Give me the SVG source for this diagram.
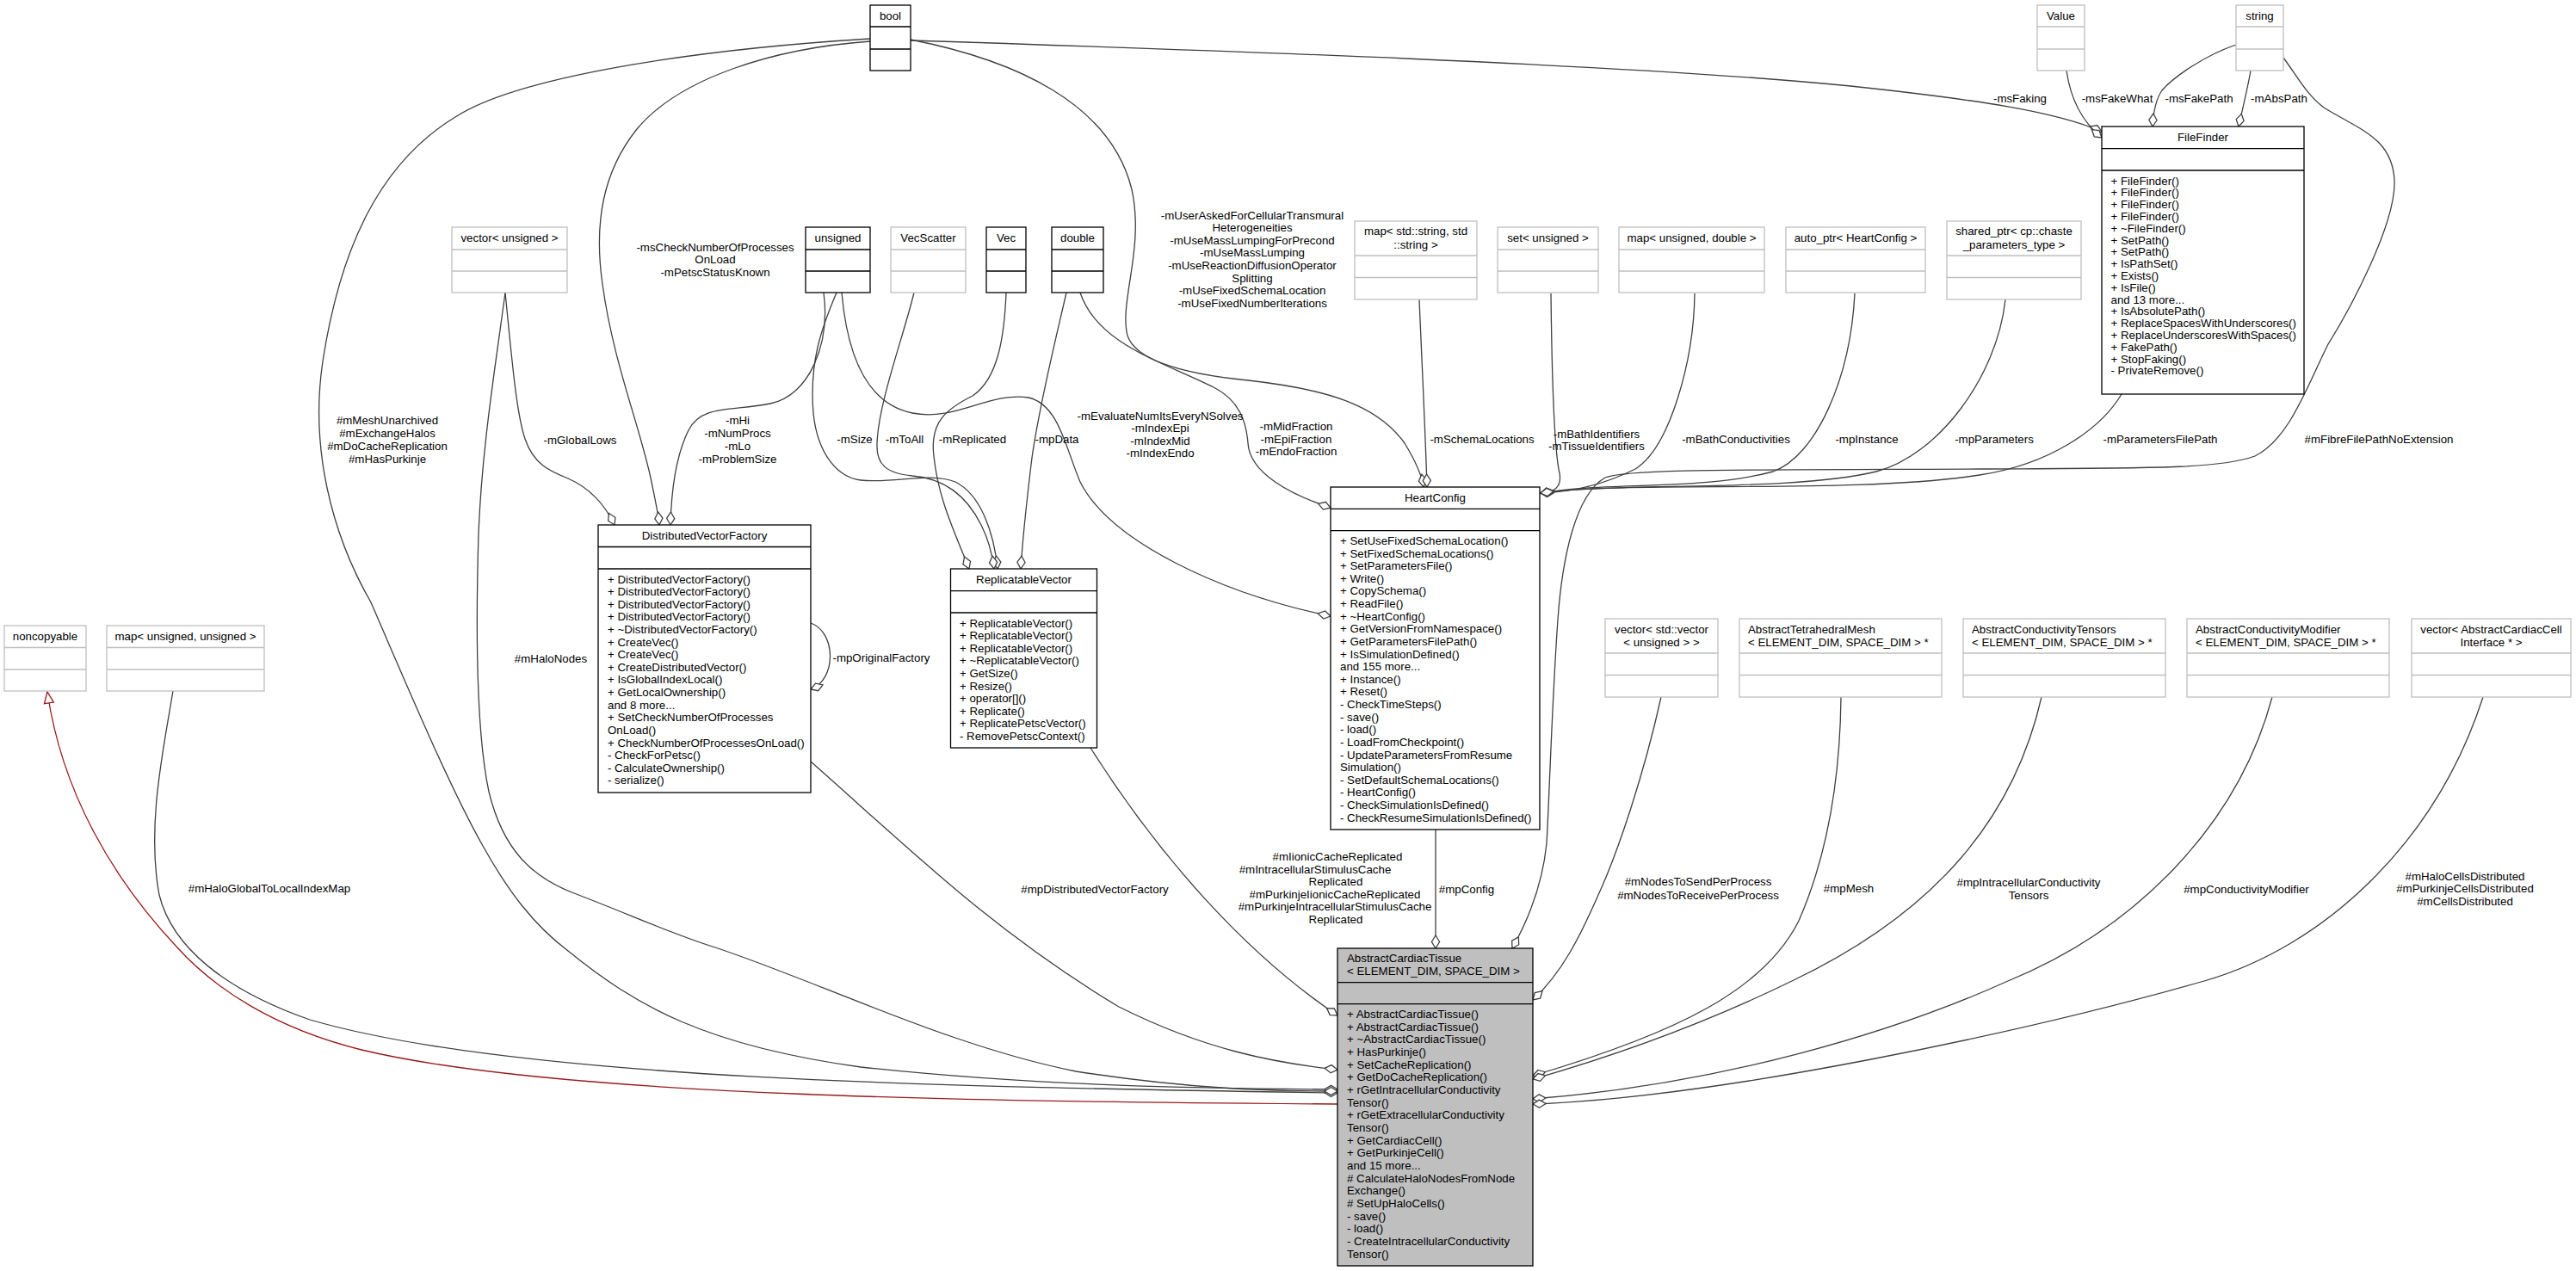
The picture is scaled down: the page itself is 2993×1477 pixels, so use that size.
<svg xmlns="http://www.w3.org/2000/svg" width="2993" height="1477" viewBox="0 0 2993 1477">
<defs>
<style>
.t{font-family:"Liberation Sans",Arial,sans-serif;font-size:13.3px;fill:#000}
.m{text-anchor:middle}
.bk{fill:#fff;stroke:#000;stroke-width:1.3}
.gr{fill:#fff;stroke:#bfbfbf;stroke-width:1.3}
.ac{fill:#bfbfbf;stroke:#000;stroke-width:1.3}
.dl{stroke:#000;stroke-width:1.3}
.gl{stroke:#bfbfbf;stroke-width:1.3}
.e{fill:none;stroke:#404040;stroke-width:1.3;marker-end:url(#dia)}
.r{fill:none;stroke:#9a1a1a;stroke-width:1.3;marker-end:url(#inh)}
</style>
<marker id="dia" markerUnits="userSpaceOnUse" markerWidth="18" markerHeight="12" viewBox="-1 -6 18 12" refX="15" refY="0" orient="auto"><path d="M0,0 L7.5,-4.6 L15,0 L7.5,4.6 Z" fill="#fff" stroke="#404040" stroke-width="1.3"/></marker>
<marker id="inh" markerUnits="userSpaceOnUse" markerWidth="16" markerHeight="14" viewBox="-1 -7 16 14" refX="13" refY="0" orient="auto"><path d="M0,-5.5 L13,0 L0,5.5 Z" fill="#fff" stroke="#9a1a1a" stroke-width="1.3"/></marker>
</defs>
<rect width="2993" height="1477" fill="#fff"/>

<g id="edges">
<path class="r" d="M1554,1283 C1150,1280 650,1275 420,1220 C320,1195 250,1150 205,1100 C130,1020 72,920 55,804"/>
<path class="e" d="M201,803 C190,870 170,960 185,1040 C200,1100 260,1150 360,1185 C600,1255 1100,1263 1554,1270"/>
<path class="e" d="M1011,45 C800,58 600,90 529,136 C440,190 395,290 375,420 C360,520 385,620 431,700 C470,790 520,910 561,983 C590,1035 620,1075 660,1105 C740,1170 820,1215 1000,1240 C1200,1262 1400,1265 1554,1266"/>
<path class="e" d="M1011,48 C900,56 790,90 740,150 C700,200 690,260 700,330 C712,420 745,500 757,560 C762,585 765,598 766,610"/>
<path class="e" d="M587,340 C595,420 600,480 610,510 C620,540 640,548 660,556 C685,567 702,585 714,610"/>
<path class="e" d="M587,340 C575,430 560,520 556,620 C553,720 553,850 568,920 C585,990 620,1020 667,1038 C730,1062 780,1085 828,1100 C950,1140 1100,1215 1250,1245 C1380,1265 1470,1268 1554,1268"/>
<path class="e" d="M957,340 C965,400 940,460 895,469 C850,478 815,470 800,500 C786,528 780,570 779,610"/>
<path class="e" d="M972,340 C955,380 940,420 945,480 C950,530 975,555 1000,558 C1040,562 1080,548 1110,560 C1140,575 1155,620 1159,661"/>
<path class="e" d="M1062,340 C1050,390 1020,470 1019,516 C1018,540 1030,550 1060,553 C1100,556 1125,580 1140,610 C1150,630 1153,645 1155,661"/>
<path class="e" d="M1169,340 C1167,390 1160,440 1130,460 C1100,475 1080,490 1085,530 C1090,580 1110,620 1126,661"/>
<path class="e" d="M1239,340 C1230,380 1205,480 1198,540 C1192,590 1188,630 1186,661"/>
<path class="e" d="M1255,340 C1275,400 1350,420 1410,450 C1440,465 1448,490 1450,515 C1452,550 1500,575 1546,590"/>
<path class="e" d="M1058,46 C1180,70 1290,120 1315,220 C1330,290 1300,350 1310,390 C1320,420 1380,435 1450,442 C1540,452 1600,470 1632,515 C1646,538 1652,552 1654,566"/>
<path class="e" d="M1649,348 C1652,420 1656,500 1658,566"/>
<path class="e" d="M978,340 C985,420 1010,470 1060,480 C1110,490 1150,455 1195,462 C1230,470 1238,520 1255,560 C1290,630 1420,690 1546,716"/>
<path class="e" d="M1802,341 C1803,430 1805,520 1812,550 C1815,566 1805,573 1790,573"/>
<path class="e" d="M1969,341 C1968,420 1940,520 1900,545 C1860,565 1820,572 1790,573"/>
<path class="e" d="M2155,341 C2150,440 2110,530 2060,548 C1980,570 1860,560 1790,573"/>
<path class="e" d="M2330,348 C2320,440 2250,530 2180,548 C2080,572 1880,560 1790,573"/>
<path class="e" d="M2465,458 C2440,500 2380,540 2300,552 C2150,575 1900,558 1790,573"/>
<path class="e" d="M2653,67 C2670,90 2680,110 2700,125 C2740,150 2780,160 2782,210 C2784,260 2730,360 2705,400 C2680,450 2660,510 2620,530 C2580,545 2500,544 2300,545 C2000,546 1890,545 1865,555 C1830,575 1815,650 1810,720 C1803,820 1800,930 1797,980 C1792,1030 1775,1070 1757,1102"/>
<path class="e" d="M1058,47 C1400,58 1900,75 2150,100 C2300,116 2390,130 2442,153"/>
<path class="e" d="M2401,82 C2405,110 2415,138 2442,160"/>
<path class="e" d="M2598,52 C2560,65 2525,90 2512,105 C2505,115 2502,130 2501,147"/>
<path class="e" d="M2615,82 C2612,100 2606,125 2601,147"/>
<path class="e" d="M1668,964 L1668,1102"/>
<path class="e" d="M1267,869 C1350,1000 1450,1110 1554,1180"/>
<path class="e" d="M942,885 C1050,980 1150,1080 1300,1170 C1400,1220 1480,1235 1554,1243"/>
<path class="e" d="M942,724 C972,735 972,790 942,801"/>
<path class="e" d="M1930,810 C1910,900 1880,990 1857,1040 C1835,1090 1815,1130 1781,1162"/>
<path class="e" d="M2139,810 C2138,900 2125,990 2090,1070 C2050,1150 1950,1200 1781,1250"/>
<path class="e" d="M2372,810 C2340,950 2250,1060 2082,1140 C2000,1180 1900,1220 1781,1254"/>
<path class="e" d="M2640,810 C2600,960 2480,1080 2333,1140 C2200,1200 2000,1260 1781,1277"/>
<path class="e" d="M2885,810 C2830,980 2700,1100 2561,1140 C2350,1200 2000,1275 1781,1283"/>
</g>

<g id="edge-labels" class="t m">
<text x="450" y="493">#mMeshUnarchived</text>
<text x="450" y="508">#mExchangeHalos</text>
<text x="450" y="523">#mDoCacheReplication</text>
<text x="450" y="538">#mHasPurkinje</text>
<text x="831" y="291.5">-msCheckNumberOfProcesses</text>
<text x="831" y="306.3">OnLoad</text>
<text x="831" y="321">-mPetscStatusKnown</text>
<text x="674" y="515.5">-mGlobalLows</text>
<text x="857" y="493">-mHi</text>
<text x="857" y="508">-mNumProcs</text>
<text x="857" y="523">-mLo</text>
<text x="857" y="538">-mProblemSize</text>
<text x="993" y="514.5">-mSize</text>
<text x="1051" y="514.5">-mToAll</text>
<text x="1130" y="514.5">-mReplicated</text>
<text x="1228" y="514.5">-mpData</text>
<text x="1455" y="254.5">-mUserAskedForCellularTransmural</text>
<text x="1455" y="269.1">Heterogeneities</text>
<text x="1455" y="283.7">-mUseMassLumpingForPrecond</text>
<text x="1455" y="298.3">-mUseMassLumping</text>
<text x="1455" y="312.9">-mUseReactionDiffusionOperator</text>
<text x="1455" y="327.5">Splitting</text>
<text x="1455" y="342.1">-mUseFixedSchemaLocation</text>
<text x="1455" y="356.7">-mUseFixedNumberIterations</text>
<text x="1348" y="487.5">-mEvaluateNumItsEveryNSolves</text>
<text x="1348" y="502.1">-mIndexEpi</text>
<text x="1348" y="516.7">-mIndexMid</text>
<text x="1348" y="531.3">-mIndexEndo</text>
<text x="1506" y="500">-mMidFraction</text>
<text x="1506" y="514.6">-mEpiFraction</text>
<text x="1506" y="529.2">-mEndoFraction</text>
<text x="1722" y="515">-mSchemaLocations</text>
<text x="1855" y="508.5">-mBathIdentifiers</text>
<text x="1855" y="523">-mTissueIdentifiers</text>
<text x="2017" y="515">-mBathConductivities</text>
<text x="2169" y="515">-mpInstance</text>
<text x="2317" y="515">-mpParameters</text>
<text x="2510" y="515">-mParametersFilePath</text>
<text x="2764" y="515">#mFibreFilePathNoExtension</text>
<text x="2347" y="118.5">-msFaking</text>
<text x="2460" y="118.5">-msFakeWhat</text>
<text x="2555" y="118.5">-msFakePath</text>
<text x="2648" y="118.5">-mAbsPath</text>
<text x="1024" y="769">-mpOriginalFactory</text>
<text x="640" y="769.5">#mHaloNodes</text>
<text x="313" y="1036.5">#mHaloGlobalToLocalIndexMap</text>
<text x="1272" y="1037.5">#mpDistributedVectorFactory</text>
<text x="1554" y="1000">#mIionicCacheReplicated</text>
<text x="1528" y="1014.5">#mIntracellularStimulusCache</text>
<text x="1552" y="1029">Replicated</text>
<text x="1551" y="1043.5">#mPurkinjeIionicCacheReplicated</text>
<text x="1551" y="1058">#mPurkinjeIntracellularStimulusCache</text>
<text x="1552" y="1072.5">Replicated</text>
<text x="1704" y="1037.5">#mpConfig</text>
<text x="1973" y="1028.5">#mNodesToSendPerProcess</text>
<text x="1973" y="1044.5">#mNodesToReceivePerProcess</text>
<text x="2148" y="1037">#mpMesh</text>
<text x="2357" y="1029.5">#mpIntracellularConductivity</text>
<text x="2357" y="1044.5">Tensors</text>
<text x="2610" y="1037.5">#mpConductivityModifier</text>
<text x="2864" y="1022.5">#mHaloCellsDistributed</text>
<text x="2864" y="1037">#mPurkinjeCellsDistributed</text>
<text x="2864" y="1051.5">#mCellsDistributed</text>
</g>

<g id="bool"><rect class="bk" x="1011" y="6" width="47" height="76"/><line class="dl" x1="1011" y1="31" x2="1058" y2="31"/><line class="dl" x1="1011" y1="57" x2="1058" y2="57"/><text class="t m" x="1034.5" y="23">bool</text></g>
<g id="Value"><rect class="gr" x="2367" y="6" width="55" height="76"/><line class="gl" x1="2367" y1="31" x2="2422" y2="31"/><line class="gl" x1="2367" y1="57" x2="2422" y2="57"/><text class="t m" x="2394.5" y="23">Value</text></g>
<g id="string"><rect class="gr" x="2598" y="6" width="55" height="76"/><line class="gl" x1="2598" y1="31" x2="2653" y2="31"/><line class="gl" x1="2598" y1="57" x2="2653" y2="57"/><text class="t m" x="2625.5" y="23">string</text></g>
<g id="vector_unsigned"><rect class="gr" x="525" y="264" width="134" height="76"/><line class="gl" x1="525" y1="290" x2="659" y2="290"/><line class="gl" x1="525" y1="315" x2="659" y2="315"/><text class="t m" x="592" y="281">vector&lt; unsigned &gt;</text></g>
<g id="unsigned"><rect class="bk" x="936" y="264" width="75" height="76"/><line class="dl" x1="936" y1="290" x2="1011" y2="290"/><line class="dl" x1="936" y1="315" x2="1011" y2="315"/><text class="t m" x="973.5" y="281">unsigned</text></g>
<g id="VecScatter"><rect class="gr" x="1035" y="264" width="87" height="76"/><line class="gl" x1="1035" y1="290" x2="1122" y2="290"/><line class="gl" x1="1035" y1="315" x2="1122" y2="315"/><text class="t m" x="1078.5" y="281">VecScatter</text></g>
<g id="Vec"><rect class="bk" x="1146" y="264" width="46" height="76"/><line class="dl" x1="1146" y1="290" x2="1192" y2="290"/><line class="dl" x1="1146" y1="315" x2="1192" y2="315"/><text class="t m" x="1169" y="281">Vec</text></g>
<g id="double"><rect class="bk" x="1222" y="264" width="60" height="76"/><line class="dl" x1="1222" y1="290" x2="1282" y2="290"/><line class="dl" x1="1222" y1="315" x2="1282" y2="315"/><text class="t m" x="1252" y="281">double</text></g>
<g id="map_string"><rect class="gr" x="1574" y="257" width="142" height="91"/><line class="gl" x1="1574" y1="297" x2="1716" y2="297"/><line class="gl" x1="1574" y1="322.5" x2="1716" y2="322.5"/><text class="t m" x="1645" y="273">map&lt; std::string, std</text><text class="t m" x="1645" y="288.5">::string &gt;</text></g>
<g id="set_unsigned"><rect class="gr" x="1740" y="264" width="117" height="76"/><line class="gl" x1="1740" y1="290" x2="1857" y2="290"/><line class="gl" x1="1740" y1="315" x2="1857" y2="315"/><text class="t m" x="1798.5" y="281">set&lt; unsigned &gt;</text></g>
<g id="map_unsigned_double"><rect class="gr" x="1881" y="264" width="169" height="76"/><line class="gl" x1="1881" y1="290" x2="2050" y2="290"/><line class="gl" x1="1881" y1="315" x2="2050" y2="315"/><text class="t m" x="1965.5" y="281">map&lt; unsigned, double &gt;</text></g>
<g id="auto_ptr"><rect class="gr" x="2075" y="264" width="162" height="76"/><line class="gl" x1="2075" y1="290" x2="2237" y2="290"/><line class="gl" x1="2075" y1="315" x2="2237" y2="315"/><text class="t m" x="2156" y="281">auto_ptr&lt; HeartConfig &gt;</text></g>
<g id="shared_ptr"><rect class="gr" x="2262" y="257" width="156" height="91"/><line class="gl" x1="2262" y1="297" x2="2418" y2="297"/><line class="gl" x1="2262" y1="322.5" x2="2418" y2="322.5"/><text class="t m" x="2340" y="273">shared_ptr&lt; cp::chaste</text><text class="t m" x="2340" y="288.5">_parameters_type &gt;</text></g>

<g id="FileFinder"><rect class="bk" x="2442" y="147" width="235" height="311"/><line class="dl" x1="2442" y1="172.7" x2="2677" y2="172.7"/><line class="dl" x1="2442" y1="198" x2="2677" y2="198"/><text class="t m" x="2559.5" y="164">FileFinder</text>
<text class="t" x="2452.5" y="214.5"><tspan x="2452.5">+ FileFinder()</tspan><tspan x="2452.5" dy="13.8">+ FileFinder()</tspan><tspan x="2452.5" dy="13.8">+ FileFinder()</tspan><tspan x="2452.5" dy="13.8">+ FileFinder()</tspan><tspan x="2452.5" dy="13.8">+ ~FileFinder()</tspan><tspan x="2452.5" dy="13.8">+ SetPath()</tspan><tspan x="2452.5" dy="13.8">+ SetPath()</tspan><tspan x="2452.5" dy="13.8">+ IsPathSet()</tspan><tspan x="2452.5" dy="13.8">+ Exists()</tspan><tspan x="2452.5" dy="13.8">+ IsFile()</tspan><tspan x="2452.5" dy="13.8">and 13 more...</tspan><tspan x="2452.5" dy="13.8">+ IsAbsolutePath()</tspan><tspan x="2452.5" dy="13.8">+ ReplaceSpacesWithUnderscores()</tspan><tspan x="2452.5" dy="13.8">+ ReplaceUnderscoresWithSpaces()</tspan><tspan x="2452.5" dy="13.8">+ FakePath()</tspan><tspan x="2452.5" dy="13.8">+ StopFaking()</tspan><tspan x="2452.5" dy="13.8">- PrivateRemove()</tspan></text></g>

<g id="noncopyable"><rect class="gr" x="5" y="727" width="95" height="76"/><line class="gl" x1="5" y1="752.5" x2="100" y2="752.5"/><line class="gl" x1="5" y1="778" x2="100" y2="778"/><text class="t m" x="52.5" y="744">noncopyable</text></g>
<g id="map_unsigned_unsigned"><rect class="gr" x="124" y="727" width="183" height="76"/><line class="gl" x1="124" y1="752.5" x2="307" y2="752.5"/><line class="gl" x1="124" y1="778" x2="307" y2="778"/><text class="t m" x="215.5" y="744">map&lt; unsigned, unsigned &gt;</text></g>

<g id="DistributedVectorFactory"><rect class="bk" x="695" y="610" width="247" height="311"/><line class="dl" x1="695" y1="635.5" x2="942" y2="635.5"/><line class="dl" x1="695" y1="661" x2="942" y2="661"/><text class="t m" x="818.5" y="626.5">DistributedVectorFactory</text>
<text class="t" x="706" y="677.5"><tspan x="706">+ DistributedVectorFactory()</tspan><tspan x="706" dy="14.62">+ DistributedVectorFactory()</tspan><tspan x="706" dy="14.62">+ DistributedVectorFactory()</tspan><tspan x="706" dy="14.62">+ DistributedVectorFactory()</tspan><tspan x="706" dy="14.62">+ ~DistributedVectorFactory()</tspan><tspan x="706" dy="14.62">+ CreateVec()</tspan><tspan x="706" dy="14.62">+ CreateVec()</tspan><tspan x="706" dy="14.62">+ CreateDistributedVector()</tspan><tspan x="706" dy="14.62">+ IsGlobalIndexLocal()</tspan><tspan x="706" dy="14.62">+ GetLocalOwnership()</tspan><tspan x="706" dy="14.62">and 8 more...</tspan><tspan x="706" dy="14.62">+ SetCheckNumberOfProcesses</tspan><tspan x="706" dy="14.62">OnLoad()</tspan><tspan x="706" dy="14.62">+ CheckNumberOfProcessesOnLoad()</tspan><tspan x="706" dy="14.62">- CheckForPetsc()</tspan><tspan x="706" dy="14.62">- CalculateOwnership()</tspan><tspan x="706" dy="14.62">- serialize()</tspan></text></g>

<g id="ReplicatableVector"><rect class="bk" x="1104.5" y="661" width="170" height="208"/><line class="dl" x1="1104.5" y1="686.7" x2="1274.5" y2="686.7"/><line class="dl" x1="1104.5" y1="712" x2="1274.5" y2="712"/><text class="t m" x="1189.5" y="678">ReplicatableVector</text>
<text class="t" x="1115" y="728.5"><tspan x="1115">+ ReplicatableVector()</tspan><tspan x="1115" dy="14.62">+ ReplicatableVector()</tspan><tspan x="1115" dy="14.62">+ ReplicatableVector()</tspan><tspan x="1115" dy="14.62">+ ~ReplicatableVector()</tspan><tspan x="1115" dy="14.62">+ GetSize()</tspan><tspan x="1115" dy="14.62">+ Resize()</tspan><tspan x="1115" dy="14.62">+ operator[]()</tspan><tspan x="1115" dy="14.62">+ Replicate()</tspan><tspan x="1115" dy="14.62">+ ReplicatePetscVector()</tspan><tspan x="1115" dy="14.62">- RemovePetscContext()</tspan></text></g>

<g id="HeartConfig"><rect class="bk" x="1546" y="566" width="243" height="398"/><line class="dl" x1="1546" y1="591.3" x2="1789" y2="591.3"/><line class="dl" x1="1546" y1="616.7" x2="1789" y2="616.7"/><text class="t m" x="1667.5" y="582.5">HeartConfig</text>
<text class="t" x="1557" y="633"><tspan x="1557">+ SetUseFixedSchemaLocation()</tspan><tspan x="1557" dy="14.62">+ SetFixedSchemaLocations()</tspan><tspan x="1557" dy="14.62">+ SetParametersFile()</tspan><tspan x="1557" dy="14.62">+ Write()</tspan><tspan x="1557" dy="14.62">+ CopySchema()</tspan><tspan x="1557" dy="14.62">+ ReadFile()</tspan><tspan x="1557" dy="14.62">+ ~HeartConfig()</tspan><tspan x="1557" dy="14.62">+ GetVersionFromNamespace()</tspan><tspan x="1557" dy="14.62">+ GetParametersFilePath()</tspan><tspan x="1557" dy="14.62">+ IsSimulationDefined()</tspan><tspan x="1557" dy="14.62">and 155 more...</tspan><tspan x="1557" dy="14.62">+ Instance()</tspan><tspan x="1557" dy="14.62">+ Reset()</tspan><tspan x="1557" dy="14.62">- CheckTimeSteps()</tspan><tspan x="1557" dy="14.62">- save()</tspan><tspan x="1557" dy="14.62">- load()</tspan><tspan x="1557" dy="14.62">- LoadFromCheckpoint()</tspan><tspan x="1557" dy="14.62">- UpdateParametersFromResume</tspan><tspan x="1557" dy="14.62">Simulation()</tspan><tspan x="1557" dy="14.62">- SetDefaultSchemaLocations()</tspan><tspan x="1557" dy="14.62">- HeartConfig()</tspan><tspan x="1557" dy="14.62">- CheckSimulationIsDefined()</tspan><tspan x="1557" dy="14.62">- CheckResumeSimulationIsDefined()</tspan></text></g>

<g id="AbstractCardiacTissue"><rect class="ac" x="1554" y="1102" width="227" height="369"/><line class="dl" x1="1554" y1="1141.7" x2="1781" y2="1141.7"/><line class="dl" x1="1554" y1="1166.7" x2="1781" y2="1166.7"/><text class="t" x="1565" y="1117.5">AbstractCardiacTissue</text><text class="t" x="1565" y="1132.5">&lt; ELEMENT_DIM, SPACE_DIM &gt;</text>
<text class="t" x="1565" y="1183"><tspan x="1565">+ AbstractCardiacTissue()</tspan><tspan x="1565" dy="14.67">+ AbstractCardiacTissue()</tspan><tspan x="1565" dy="14.67">+ ~AbstractCardiacTissue()</tspan><tspan x="1565" dy="14.67">+ HasPurkinje()</tspan><tspan x="1565" dy="14.67">+ SetCacheReplication()</tspan><tspan x="1565" dy="14.67">+ GetDoCacheReplication()</tspan><tspan x="1565" dy="14.67">+ rGetIntracellularConductivity</tspan><tspan x="1565" dy="14.67">Tensor()</tspan><tspan x="1565" dy="14.67">+ rGetExtracellularConductivity</tspan><tspan x="1565" dy="14.67">Tensor()</tspan><tspan x="1565" dy="14.67">+ GetCardiacCell()</tspan><tspan x="1565" dy="14.67">+ GetPurkinjeCell()</tspan><tspan x="1565" dy="14.67">and 15 more...</tspan><tspan x="1565" dy="14.67"># CalculateHaloNodesFromNode</tspan><tspan x="1565" dy="14.67">Exchange()</tspan><tspan x="1565" dy="14.67"># SetUpHaloCells()</tspan><tspan x="1565" dy="14.67">- save()</tspan><tspan x="1565" dy="14.67">- load()</tspan><tspan x="1565" dy="14.67">- CreateIntracellularConductivity</tspan><tspan x="1565" dy="14.67">Tensor()</tspan></text></g>

<g id="vector_vector_unsigned"><rect class="gr" x="1865" y="719" width="131" height="91"/><line class="gl" x1="1865" y1="759" x2="1996" y2="759"/><line class="gl" x1="1865" y1="784.5" x2="1996" y2="784.5"/><text class="t m" x="1930.5" y="735.5">vector&lt; std::vector</text><text class="t m" x="1930.5" y="750.5">&lt; unsigned &gt; &gt;</text></g>
<g id="AbstractTetrahedralMesh"><rect class="gr" x="2021" y="719" width="235" height="91"/><line class="gl" x1="2021" y1="759" x2="2256" y2="759"/><line class="gl" x1="2021" y1="784.5" x2="2256" y2="784.5"/><text class="t" x="2031" y="735.5">AbstractTetrahedralMesh</text><text class="t" x="2031" y="750.5">&lt; ELEMENT_DIM, SPACE_DIM &gt; *</text></g>
<g id="AbstractConductivityTensors"><rect class="gr" x="2281" y="719" width="235" height="91"/><line class="gl" x1="2281" y1="759" x2="2516" y2="759"/><line class="gl" x1="2281" y1="784.5" x2="2516" y2="784.5"/><text class="t" x="2291" y="735.5">AbstractConductivityTensors</text><text class="t" x="2291" y="750.5">&lt; ELEMENT_DIM, SPACE_DIM &gt; *</text></g>
<g id="AbstractConductivityModifier"><rect class="gr" x="2541" y="719" width="235" height="91"/><line class="gl" x1="2541" y1="759" x2="2776" y2="759"/><line class="gl" x1="2541" y1="784.5" x2="2776" y2="784.5"/><text class="t" x="2551" y="735.5">AbstractConductivityModifier</text><text class="t" x="2551" y="750.5">&lt; ELEMENT_DIM, SPACE_DIM &gt; *</text></g>
<g id="vector_cell_interface"><rect class="gr" x="2802" y="719" width="185" height="91"/><line class="gl" x1="2802" y1="759" x2="2987" y2="759"/><line class="gl" x1="2802" y1="784.5" x2="2987" y2="784.5"/><text class="t m" x="2894.5" y="735.5">vector&lt; AbstractCardiacCell</text><text class="t m" x="2894.5" y="750.5">Interface * &gt;</text></g>
</svg>
